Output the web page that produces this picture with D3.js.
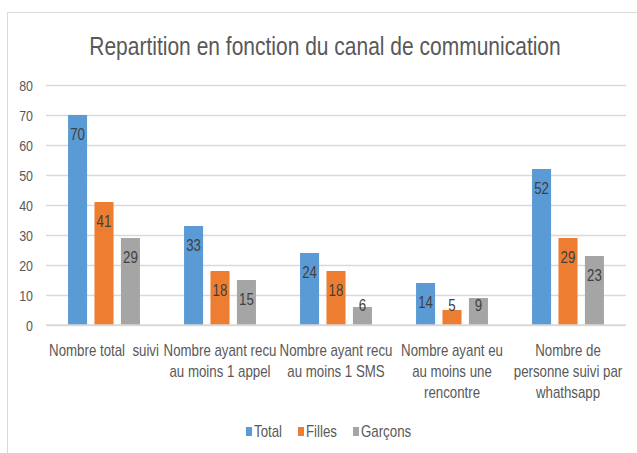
<!DOCTYPE html>
<html><head><meta charset="utf-8">
<script src="https://cdn.jsdelivr.net/npm/d3@7"></script>
<style>body{margin:0;background:#fff}</style>
</head><body>
<svg id="c" width="637" height="453"></svg>
<script>
const title = "Repartition en fonction du canal de communication";
const categories = [
  ["Nombre total  suivi"],
  ["Nombre ayant recu", "au moins 1 appel"],
  ["Nombre ayant recu", "au moins 1 SMS"],
  ["Nombre ayant eu", "au moins une", "rencontre"],
  ["Nombre de", "personne suivi par", "whathsapp"]
];
const seriesNames = ["Total", "Filles", "Garçons"];
const total = [70, 33, 24, 14, 52];
const filles = [41, 18, 18, 5, 29];
const garcons = [29, 15, 6, 9, 23];
const yTicks = [0, 10, 20, 30, 40, 50, 60, 70, 80];
const colors = ["#5B9BD5", "#ED7D31", "#A5A5A5"];

(function () {
const series = [total, filles, garcons];
const font = "'Liberation Sans', sans-serif";
const SX = 0.83;
const svg = d3.select("#c");

function ctext(parent, x, y, str, size, fill, anchor, sx) {
  return parent.append("text")
    .attr("transform", `translate(${x},${y}) scale(${sx || SX},1)`)
    .attr("text-anchor", anchor || "middle")
    .attr("font-family", font).attr("font-size", size).attr("fill", fill)
    .attr("xml:space", "preserve").style("white-space", "pre")
    .text(str);
}

svg.append("rect").attr("x", 7.5).attr("y", 12.5).attr("width", 660).attr("height", 460)
  .attr("fill", "#fff").attr("stroke", "#d9d9d9");

const pl = 46, pr = 626, pt = 85, pb = 325;
const x = d3.scaleBand().domain(d3.range(categories.length)).range([pl, pr]).paddingInner(0.38).paddingOuter(0.19);
const xs = d3.scaleBand().domain(d3.range(series.length)).range([0, x.bandwidth()]).paddingInner(0.28);
const y = d3.scaleLinear().domain([0, 80]).range([pb, pt]);

ctext(svg, 325, 55, title, 25, "#595959", "middle", 0.84);

const yAxis = d3.axisLeft(y).tickValues(yTicks).tickSize(-(pr - pl)).tickPadding(12);
const gy = svg.append("g").attr("transform", `translate(${pl},0)`).call(yAxis);
gy.select(".domain").remove();
gy.selectAll(".tick line").attr("stroke", "#d9d9d9").attr("stroke-width", 1.5);
gy.selectAll(".tick text").attr("font-family", font).attr("font-size", 15).attr("fill", "#595959")
  .attr("x", 0).attr("dy", "0.36em").attr("transform", `translate(-13,0) scale(${SX},1)`);

series.forEach((s, si) => {
  const g = svg.append("g");
  g.selectAll("rect").data(s).join("rect")
    .attr("x", (d, i) => x(i) + xs(si)).attr("width", xs.bandwidth())
    .attr("y", d => y(d)).attr("height", d => y(0) - y(d)).attr("fill", colors[si]);
  s.forEach((d, i) => {
    const by = Math.min(y(d) + 25, y(0) - 14);
    ctext(g, x(i) + xs(si) + xs.bandwidth() / 2, by, String(d), 16, "#404040");
  });
});

svg.append("line").attr("x1", pl).attr("x2", pr).attr("y1", y(0)).attr("y2", y(0))
  .attr("stroke", "#d9d9d9").attr("stroke-width", 1.5);

const gx = svg.append("g");
categories.forEach((lines, i) => {
  lines.forEach((ln, j) => {
    ctext(gx, x(i) + x.bandwidth() / 2, 356 + j * 21, ln, 16, "#595959");
  });
});

const legendX = [246, 298, 353];
const lg = svg.append("g");
seriesNames.forEach((n, i) => {
  lg.append("rect").attr("x", legendX[i]).attr("y", 427).attr("width", 6).attr("height", 9).attr("fill", colors[i]);
  ctext(lg, legendX[i] + 8, 437, n, 16, "#595959", "start");
});
})();
</script>
</body></html>
